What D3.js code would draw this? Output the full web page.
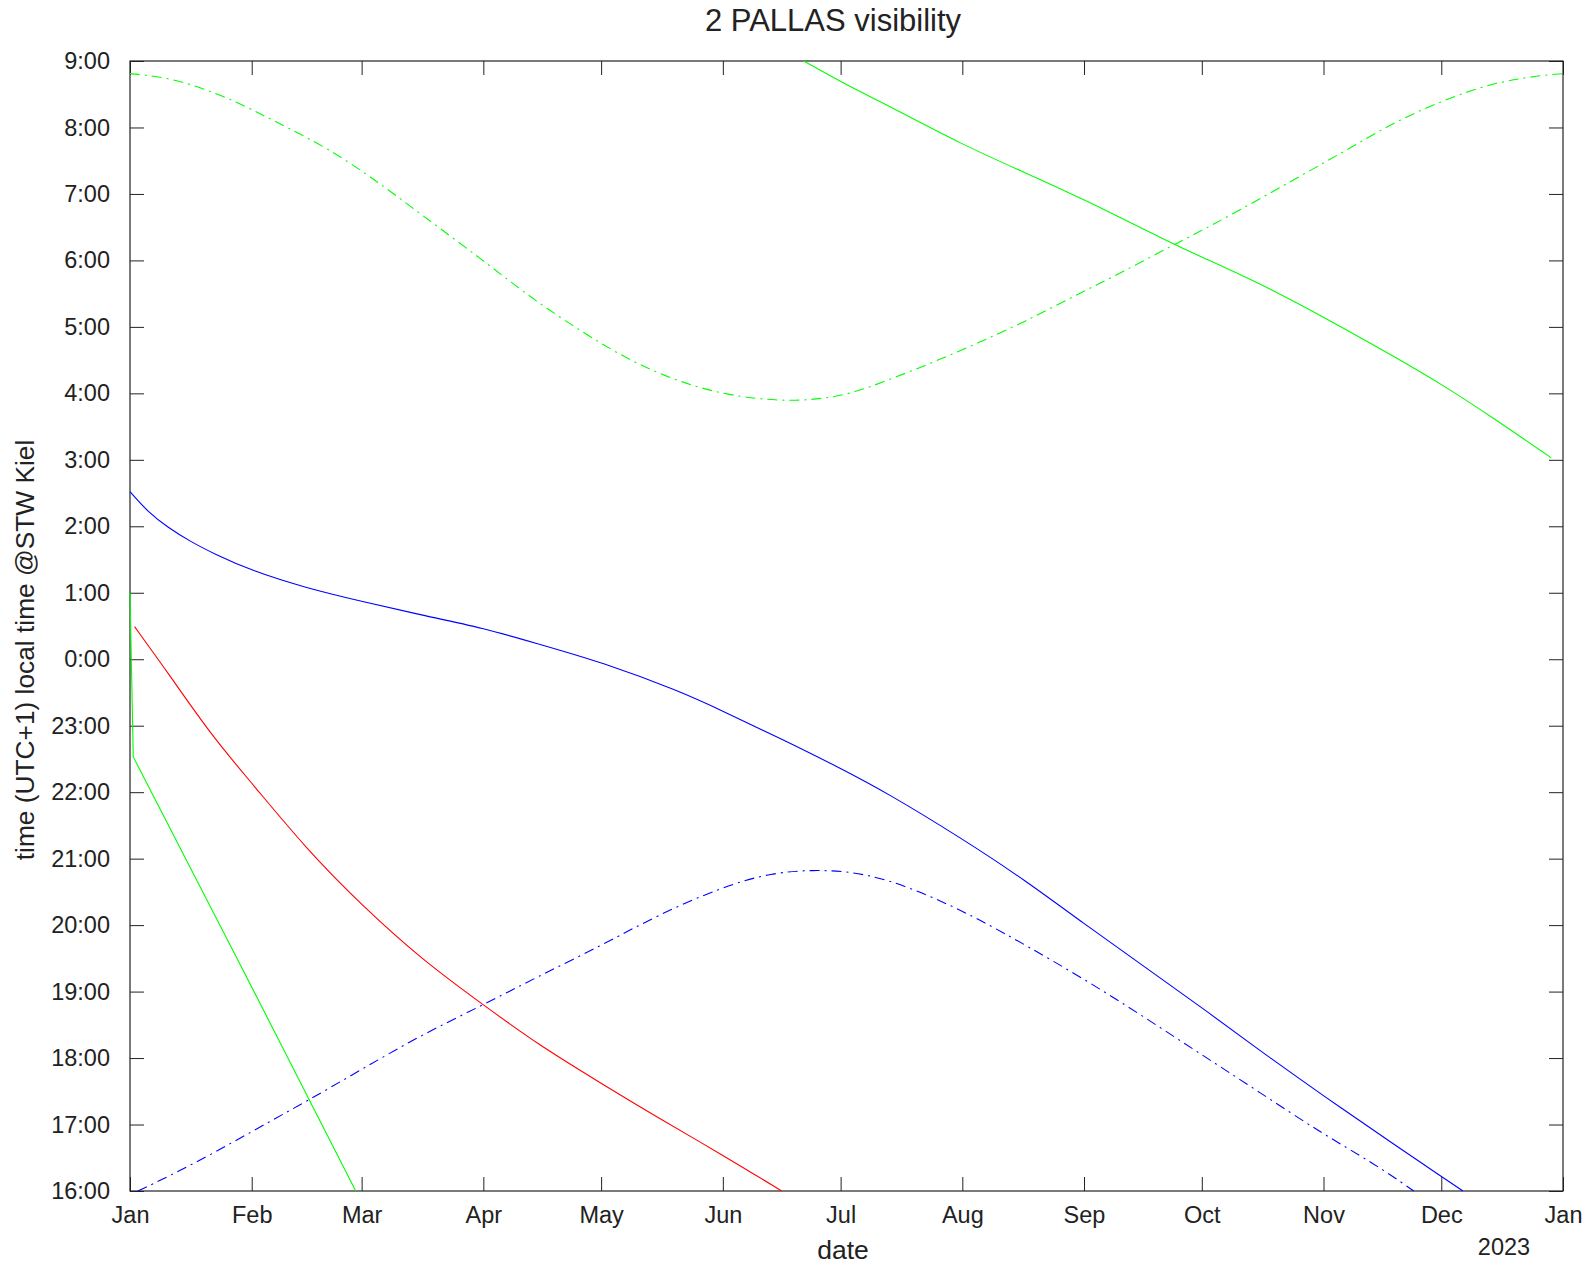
<!DOCTYPE html>
<html>
<head>
<meta charset="utf-8">
<script src="https://cdn.jsdelivr.net/npm/d3@7"></script>
<style>
  body { margin: 0; background: #fff; }
  svg { display: block; font-family: "Liberation Sans", Arial, sans-serif; }
</style>
</head>
<body>
<svg id="chart" width="1594" height="1266"></svg>
<script>
// day of year 2022 (0 = Jan 1) and hours after 16:00 local time
const greenDashDays = [0, 11.8, 26, 33, 40, 50, 61.6, 73.5, 90, 102, 116, 128, 140, 152, 166, 175, 183, 192.8, 204.7, 216.5, 228, 240, 252, 266, 275.7, 287.6, 299.4, 311, 323, 335, 347, 358.7, 365];
const greenDashHours = [16.81, 16.74, 16.42, 16.21, 16.0, 15.70, 15.25, 14.72, 14.0, 13.44, 12.89, 12.47, 12.17, 11.97, 11.88, 11.91, 11.98, 12.19, 12.47, 12.77, 13.08, 13.45, 13.80, 14.24, 14.53, 14.92, 15.31, 15.70, 16.11, 16.42, 16.67, 16.78, 16.81];

const greenSolidDays = [171.6, 183.4, 192.8, 212, 228.4, 243, 266.3, 273, 287.6, 304, 323, 334, 347, 362];
const greenSolidHours = [17, 16.61, 16.34, 15.74, 15.31, 14.92, 14.23, 14.05, 13.66, 13.15, 12.52, 12.14, 11.64, 11.03];

const greenLowDays = [0, 0.85, 29, 57.5];
const greenLowHours = [9.0, 6.53, 3.3, 0];

const blueSolidDays = [0, 4.7, 9.5, 15.4, 21.3, 31, 45, 59, 74.6, 90, 104, 120, 140, 151, 166, 181, 192.8, 212, 228.4, 243, 258, 273, 287.6, 304, 323, 334, 339.5];
const blueSolidHours = [10.52, 10.21, 9.99, 9.77, 9.59, 9.33, 9.07, 8.87, 8.66, 8.47, 8.23, 7.96, 7.52, 7.22, 6.80, 6.36, 5.99, 5.30, 4.66, 4.02, 3.39, 2.76, 2.12, 1.43, 0.66, 0.22, 0];

const blueDashDays = [2, 9.5, 21.3, 33, 45, 59, 74.6, 90, 104, 120, 134, 151, 163.5, 174, 183, 192.8, 204.7, 216.5, 228.4, 243, 258, 273, 287.6, 304, 317, 327];
const blueDashHours = [0, 0.21, 0.57, 0.96, 1.35, 1.83, 2.36, 2.80, 3.23, 3.69, 4.14, 4.58, 4.79, 4.83, 4.81, 4.69, 4.42, 4.08, 3.69, 3.19, 2.63, 2.05, 1.49, 0.85, 0.41, 0];

const redDays = [1.2, 9.5, 21.3, 31, 45, 59, 74.6, 90, 104, 120, 134, 151, 166];
const redHours = [8.49, 7.81, 6.81, 6.14, 5.14, 4.30, 3.47, 2.80, 2.20, 1.62, 1.12, 0.54, 0];

const hourTicks = d3.range(0, 18);
const startDate = new Date(Date.UTC(2022, 0, 1));
const endDate = new Date(Date.UTC(2023, 0, 1));

const svg = d3.select("#chart");
const margin = { top: 61, right: 31, bottom: 75, left: 130 };
const width = 1594;
const height = 1266;

const x = d3.scaleUtc().domain([startDate, endDate]).range([margin.left, width - margin.right]);
const y = d3.scaleLinear().domain([0, 17]).range([height - margin.bottom, margin.top]);

const toPoints = (days, hours) => days.map((d, i) => [d3.utcHour.offset(startDate, d * 24), hours[i]]);

// axes: ticks point inward on all four sides
const fmtHour = h => ((16 + h) % 24) + ":00";

svg.append("g")
    .attr("transform", `translate(0,${height - margin.bottom})`)
    .call(d3.axisBottom(x).ticks(d3.utcMonth.every(1)).tickFormat(d3.utcFormat("%b")).tickSize(-14).tickPadding(15))
    .call(g => g.select(".domain").remove());

svg.append("g")
    .attr("transform", `translate(0,${margin.top})`)
    .call(d3.axisTop(x).ticks(d3.utcMonth.every(1)).tickFormat("").tickSize(-14))
    .call(g => g.select(".domain").remove());

svg.append("g")
    .attr("transform", `translate(${margin.left},0)`)
    .call(d3.axisLeft(y).tickValues(hourTicks).tickFormat(fmtHour).tickSize(-14).tickPadding(20))
    .call(g => g.select(".domain").remove());

svg.append("g")
    .attr("transform", `translate(${width - margin.right},0)`)
    .call(d3.axisRight(y).tickValues(hourTicks).tickFormat("").tickSize(-14))
    .call(g => g.select(".domain").remove());

svg.selectAll(".tick line").attr("stroke", "#222");
svg.selectAll(".tick text").attr("fill", "#222").style("font-size", "23.5px");

svg.append("rect")
    .attr("x", margin.left)
    .attr("y", margin.top)
    .attr("width", width - margin.left - margin.right)
    .attr("height", height - margin.top - margin.bottom)
    .attr("fill", "none")
    .attr("stroke", "#222")
    .attr("stroke-width", 1.2);

const line = d3.line().x(d => x(d[0])).y(d => y(d[1])).curve(d3.curveBasis);
const lineStraight = d3.line().x(d => x(d[0])).y(d => y(d[1]));

const series = [
    { pts: toPoints(greenDashDays, greenDashHours), color: "#00ff00", dash: "10,5,2,5", gen: line },
    { pts: toPoints(greenSolidDays, greenSolidHours), color: "#00ff00", dash: null, gen: line },
    { pts: toPoints(greenLowDays, greenLowHours), color: "#00ff00", dash: null, gen: lineStraight },
    { pts: toPoints(blueSolidDays, blueSolidHours), color: "#0000ff", dash: null, gen: line },
    { pts: toPoints(blueDashDays, blueDashHours), color: "#0000ff", dash: "10,5,2,5", gen: line },
    { pts: toPoints(redDays, redHours), color: "#ff0000", dash: null, gen: line }
];

svg.append("g").selectAll("path")
    .data(series)
    .join("path")
    .attr("d", s => s.gen(s.pts))
    .attr("fill", "none")
    .attr("stroke", s => s.color)
    .attr("stroke-width", 1.1)
    .attr("stroke-dasharray", s => s.dash);

// labels
svg.append("text")
    .attr("x", 833).attr("y", 31)
    .attr("text-anchor", "middle")
    .attr("fill", "#222")
    .style("font-size", "31px")
    .text("2 PALLAS visibility");

svg.append("text")
    .attr("x", 843).attr("y", 1259)
    .attr("text-anchor", "middle")
    .attr("fill", "#222")
    .style("font-size", "26.5px")
    .text("date");

svg.append("text")
    .attr("x", 1504).attr("y", 1255)
    .attr("text-anchor", "middle")
    .attr("fill", "#222")
    .style("font-size", "23.5px")
    .text("2023");

svg.append("text")
    .attr("transform", "translate(34,650) rotate(-90)")
    .attr("text-anchor", "middle")
    .attr("fill", "#222")
    .style("font-size", "26.3px")
    .text("time (UTC+1) local time @STW Kiel");
</script>
</body>
</html>
